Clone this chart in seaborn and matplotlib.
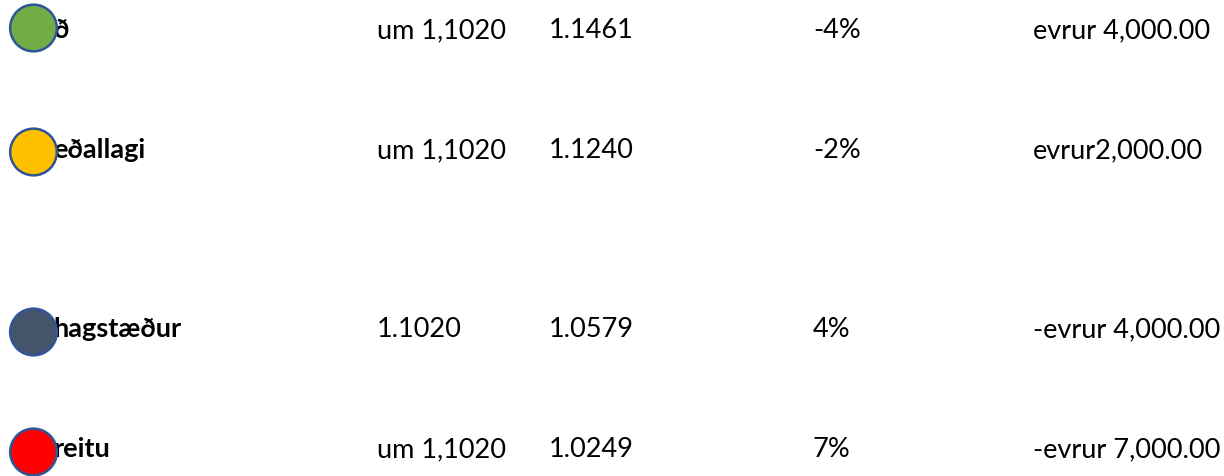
import matplotlib
matplotlib.use("Agg")
import matplotlib.pyplot as plt
import seaborn as sns
import pandas as pd

# ---- data ----
labels = ["ð", "eðallagi", "hagstæður", "reitu"]
col_rate = ["um 1,1020", "um 1,1020", "1.1020", "um 1,1020"]
col_new = ["1.1461", "1.1240", "1.0579", "1.0249"]
col_pct = ["-4%", "-2%", "4%", "7%"]
col_amount = ["evrur 4,000.00", "evrur2,000.00", "-evrur 4,000.00", "-evrur 7,000.00"]
colors = ["#70AD47", "#FFC000", "#44546A", "#FF0000"]

# ---- layout (pixels) ----
circle_y = [28, 152, 332, 452]
text_y = [38, 158, 337, 457]
circle_x = 33.5
col_x = [53, 377, 549, 813, 1033]

sns.set_theme(style="white")
plt.rcParams['font.family'] = ['Lato', 'DejaVu Sans']

fig = plt.figure(figsize=(12.24, 4.76), dpi=100)
ax = fig.add_axes([0, 0, 1, 1])

FS = 19.5
for i in range(len(labels)):
    y = text_y[i]
    ax.text(col_x[0], y, labels[i], fontsize=FS, fontweight="bold", va="baseline", ha="left", color="black", zorder=2)
    ax.text(col_x[1], y, col_rate[i], fontsize=FS, va="baseline", ha="left", color="black")
    ax.text(col_x[2], y, col_new[i], fontsize=FS, va="baseline", ha="left", color="black")
    ax.text(col_x[3], y, col_pct[i], fontsize=FS, va="baseline", ha="left", color="black")
    ax.text(col_x[4], y, col_amount[i], fontsize=FS, va="baseline", ha="left", color="black")

df = pd.DataFrame({"label": labels, "x": [circle_x] * len(labels), "y": circle_y})
sns.scatterplot(data=df, x="x", y="y", hue="label", palette=dict(zip(labels, colors)),
                s=1130, edgecolor="#2F5597", linewidth=1.8, legend=False, ax=ax, zorder=5)

ax.set_xlim(0, 1224)
ax.set_ylim(476, 0)
ax.axis("off")
fig.savefig("out.png", dpi=100, facecolor="white")
